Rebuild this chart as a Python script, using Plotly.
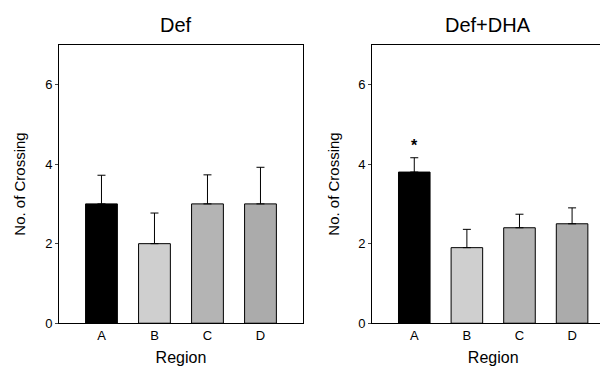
import plotly.graph_objects as go

regions = ["A", "B", "C", "D"]
def_means = [3.0, 2.0, 3.0, 3.0]
def_err = [0.72, 0.77, 0.73, 0.92]
dha_means = [3.8, 1.9, 2.4, 2.5]
dha_err = [0.36, 0.46, 0.34, 0.40]
bar_colors = ["#000000", "#cfcfcf", "#b4b4b4", "#ababab"]
yticks = [0, 2, 4, 6]

fig = go.Figure()
for means, errs, xa, ya in [(def_means, def_err, "x", "y"), (dha_means, dha_err, "x2", "y2")]:
    fig.add_trace(go.Bar(
        x=regions, y=means, xaxis=xa, yaxis=ya, width=0.6,
        marker=dict(color=bar_colors, line=dict(color="#000000", width=1)),
        error_y=dict(type="data", array=errs, arrayminus=[0]*len(errs), symmetric=False,
                     color="#000000", thickness=1, width=4),
        showlegend=False,
    ))

font = dict(family="Liberation Sans, Arial, sans-serif", color="#000000")
xcommon = dict(range=[-0.8, 3.8], showline=True, mirror=True, linecolor="#000000", linewidth=1,
               ticks="", tickfont=dict(size=13, **font), showgrid=False, zeroline=False,
               title=dict(text="Region", font=dict(size=16, **font), standoff=9))
ycommon = dict(range=[0, 7], tickvals=yticks, showline=True, mirror=True, linecolor="#000000",
               linewidth=1, ticks="outside", ticklen=3, tickfont=dict(size=13, **font),
               showgrid=False, zeroline=False,
               title=dict(text="No. of Crossing", font=dict(size=15, **font), standoff=15))

fig.update_layout(
    width=608, height=372, margin=dict(l=0, r=0, t=0, b=0),
    paper_bgcolor="white", plot_bgcolor="white",
    xaxis=dict(domain=[0.084, 0.485], anchor="y", **xcommon),
    yaxis=dict(domain=[0.134, 0.899], anchor="x", **ycommon),
    xaxis2=dict(domain=[0.599, 0.997], anchor="y2", **xcommon),
    yaxis2=dict(domain=[0.134, 0.899], anchor="x2", **ycommon),
    annotations=[
        dict(text="Def", x=0.277, y=0.952, xref="paper", yref="paper", showarrow=False,
             font=dict(size=20, **font), xanchor="center", yanchor="middle"),
        dict(text="Def+DHA", x=0.79, y=0.952, xref="paper", yref="paper", showarrow=False,
             font=dict(size=20, **font), xanchor="center", yanchor="middle"),
        dict(text="<b>*</b>", x="A", y=dha_means[0] + dha_err[0] + 0.05, xref="x2", yref="y2",
             showarrow=False, font=dict(size=16, **font), xanchor="center", yanchor="bottom"),
    ],
)

fig.write_html("out.html")
